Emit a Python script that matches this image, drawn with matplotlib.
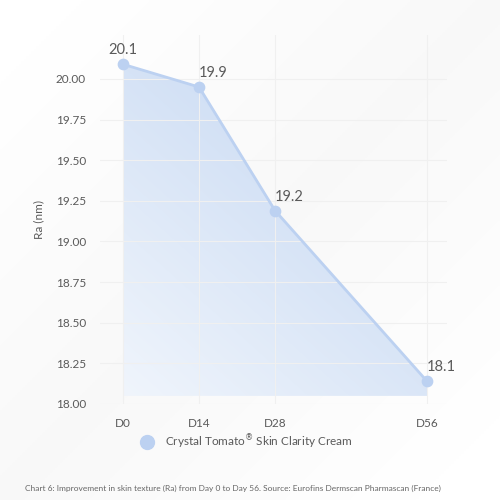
import numpy as np
import matplotlib
matplotlib.use("Agg")
import matplotlib.pyplot as plt
from matplotlib.patches import Polygon
from matplotlib.lines import Line2D

plt.rcParams['font.family'] = ['Lato', 'DejaVu Sans']

days = [0, 14, 28, 56]
day_labels = ["D0", "D14", "D28", "D56"]
ra_values = [20.09, 19.95, 19.19, 18.14]
y_ticks = [18.00, 18.25, 18.50, 18.75, 19.00, 19.25, 19.50, 19.75, 20.00]
series_name = "Crystal Tomato$^{\u00ae}$ Skin Clarity Cream"
caption = "Chart 6: Improvement in skin texture (Ra) from Day 0 to Day 56. Source: Eurofins Dermscan Pharmascan (France)"
fill_base = 18.05

line_color = "#bcd1f1"
text_color = "#5a5a5a"
grid_color = "#f0f0f0"

fig = plt.figure(figsize=(5, 5), dpi=100)
fig.patch.set_facecolor("white")

# faint background shading
bg = fig.add_axes([0, 0, 1, 1], zorder=-10)
yy, xx = np.mgrid[0:1:200j, 0:1:200j]
shade = np.clip(1 - np.abs((xx + (1 - yy)) - 1.0) * 1.2, 0, 1)
img = np.ones((200, 200, 3))
img -= (shade[..., None] * 0.025)
bg.imshow(img, extent=[0, 1, 0, 1], origin="lower", aspect="auto")
bg.axis("off")

ax = fig.add_axes([100/500, 1 - 404/500, 347/500, (404 - 35)/500])
ax.set_facecolor("none")
ax.set_xlim(-4.24, 59.68)
ax.set_ylim(18.0, 20.27)

# gradient fill under the line
verts = [(days[0], fill_base)] + list(zip(days, ra_values)) + [(days[-1], fill_base)]
poly = Polygon(verts, closed=True, facecolor="none", edgecolor="none")
ax.add_patch(poly)
gy, gx = np.mgrid[0:1:300j, 0:1:300j]
t = np.clip(0.55 * gy + 0.45 * gx, 0, 1)
top = np.array([192, 212, 241]) / 255
bot = np.array([240, 245, 252]) / 255
grad = bot[None, None, :] * (1 - t[..., None]) + top[None, None, :] * t[..., None]
im = ax.imshow(grad, extent=[days[0], days[-1], fill_base, max(ra_values)],
               origin="lower", aspect="auto", zorder=1)
im.set_clip_path(poly)
ax.set_xlim(-4.24, 59.68)
ax.set_ylim(18.0, 20.27)

ax.plot(days, ra_values, color=line_color, lw=2, zorder=2)
ax.scatter(days, ra_values, s=55, color=line_color, zorder=3)

for d, v in zip(days, ra_values):
    ax.annotate(f"{v:.1f}", (d, v), xytext=(0, 5), textcoords="offset points",
                ha="left" if d > 0 else "center", va="bottom",
                fontsize=10.5, color=text_color, zorder=4)

ax.set_xticks(days)
ax.set_xticklabels(day_labels)
ax.set_yticks(y_ticks)
ax.set_yticklabels([f"{v:.2f}" for v in y_ticks])
ax.tick_params(axis="both", length=0, labelsize=8.5, labelcolor=text_color)
ax.tick_params(axis="y", pad=10)
ax.tick_params(axis="x", pad=10)
ax.grid(True, color=grid_color, lw=0.8, zorder=0)
for s in ax.spines.values():
    s.set_visible(False)
ax.set_ylabel("Ra (nm)", fontsize=8.5, color=text_color, labelpad=8)

# legend
handle = Line2D([], [], marker="o", linestyle="none", markersize=10,
                markerfacecolor=line_color, markeredgecolor=line_color)
fig.legend([handle], [series_name], loc="center", bbox_to_anchor=(244/500, 1 - 442/500),
           frameon=False, fontsize=8.5, labelcolor=text_color, handletextpad=0.5,
           borderaxespad=0)

fig.text(25/500, 1 - 488/500, caption, fontsize=6.0, color="#666666", va="center", ha="left")

fig.savefig("out.png", dpi=100)
